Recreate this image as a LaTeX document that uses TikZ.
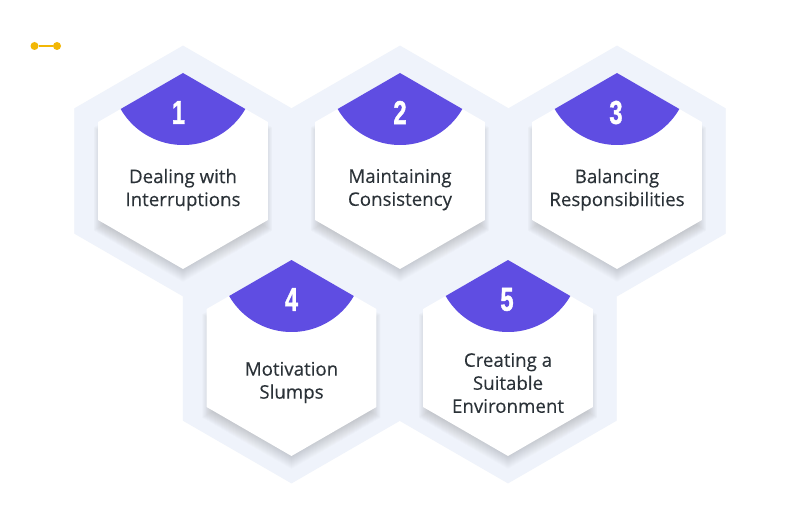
\documentclass[tikz,border=0pt]{standalone}
\usepackage{fontspec}
\setmainfont[FakeBold=0.25]{Open Sans}
\newfontfamily\numfont[FakeBold=1.5]{Liberation Sans Bold}
\definecolor{hexbg}{HTML}{EFF3FB}
\definecolor{capfill}{HTML}{5F4DE2}
\definecolor{inktext}{HTML}{2B3238}
\definecolor{dumb}{HTML}{F2B705}
\definecolor{shade}{HTML}{3A4660}
\newcommand\hexpath[2]{(#1) +(90:#2) -- +(30:#2) -- +(-30:#2) -- +(-90:#2) -- +(-150:#2) -- +(150:#2) -- cycle}
\tikzset{
  label text/.style={font=\fontsize{18.7}{23}\selectfont,text=inktext,align=center,inner sep=0pt},
  num text/.style={font=\numfont\fontsize{33}{33}\selectfont,text=white,inner sep=0pt,xscale=.72},
  dot/.style={circle,fill=dumb,minimum size=8pt,inner sep=0pt}
}
\newcommand\card[6]{%
  \coordinate (c#1) at (#2,#3);
  \foreach \k in {1,...,16}{
    \fill[shade,opacity=.012] \hexpath{$(c#1)+(0,-8)$}{87+\k*1};
  }
  \fill[white] \hexpath{c#1}{98};
  \coordinate (a#1) at ($(c#1)+(0,98)$);
  \fill[capfill] (a#1) -- ++(210:72) arc[start angle=210,end angle=330,radius=72] -- cycle;
  \node[num text] (n#1) at ($(a#1)+(#6,-39.5)$) {#1};
  \node[label text,anchor=center] (t#1) at ($(c#1)+(0,#5)$) {#4};
}
\usetikzlibrary{calc}
\begin{document}
\begin{tikzpicture}[x=1pt,y=1pt]
\useasboundingbox (0,0) rectangle (800,515);
\fill[white] (0,0) rectangle (800,515);
\coordinate (dl) at (34.5,469);
\coordinate (dr) at (57,469);
\foreach \x/\y in {183/344,400/344,617/344,291.5/157,508/157}{
  \coordinate (b) at (\x,\y);
  \filldraw[hexbg,line width=.6pt] \hexpath{b}{125};
}
\card{1}{183}{344}{Dealing with\\Interruptions}{-18.7}{-4.5}
\card{2}{400}{344}{Maintaining\\Consistency}{-18.7}{0}
\card{3}{617}{344}{Balancing\\Responsibilities}{-18.7}{-1}
\card{4}{291.5}{157}{Motivation\\Slumps}{-24.5}{0}
\card{5}{508}{157}{Creating a\\Suitable\\Environment}{-25}{-1}
\node[dot] (d1) at (dl) {};
\node[dot] (d2) at (dr) {};
\draw[dumb,line width=2pt] (d1) -- (d2);
\end{tikzpicture}
\end{document}
